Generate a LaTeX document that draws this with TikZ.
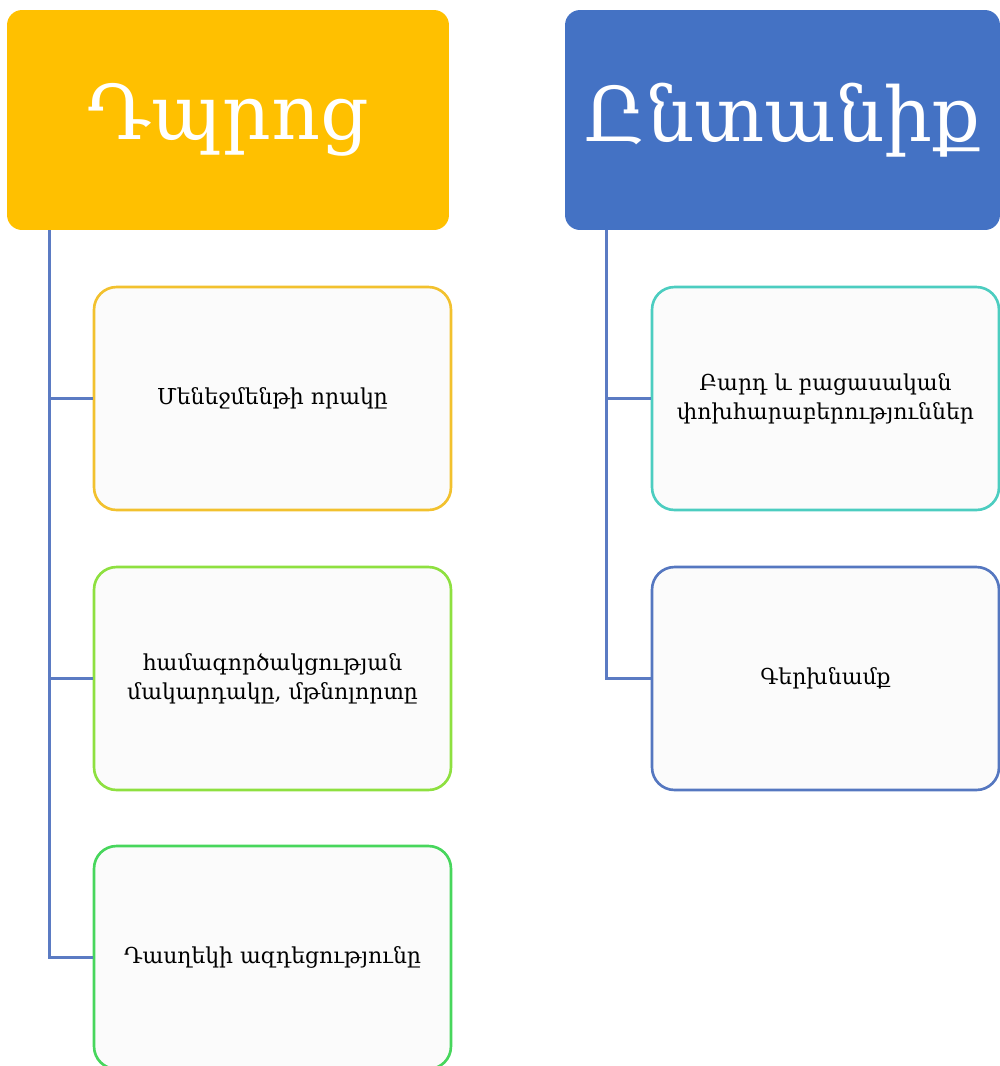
\documentclass[tikz,border=0pt]{standalone}
\usepackage{fontspec}
\newfontfamily\armfont{DejaVu Serif}
\definecolor{hdrYellow}{HTML}{FFC000}
\definecolor{hdrBlue}{HTML}{4472C4}
\definecolor{connBlue}{HTML}{5B7BC3}
\definecolor{bdGold}{HTML}{F2C12E}
\definecolor{bdLime}{HTML}{8EE040}
\definecolor{bdGreen}{HTML}{47D65C}
\definecolor{bdTeal}{HTML}{4CCDC0}
\definecolor{bdBlue}{HTML}{5577C0}
\definecolor{boxFill}{HTML}{FBFBFB}
\tikzset{
  hdr/.style={rectangle, rounded corners=0.3cm, minimum height=4.4cm, inner sep=0pt,
    text=white, font=\armfont\fontsize{43}{50}\selectfont},
  child/.style={rectangle, rounded corners=0.45cm, minimum width=7.14cm, minimum height=4.46cm,
    fill=boxFill, line width=1.5pt, inner sep=2pt, align=center, text=black,
    font=\armfont\fontsize{12.5}{16.5}\selectfont},
  conn/.style={draw=connBlue, line width=1.5pt}
}
\begin{document}
\begin{tikzpicture}[x=0.02cm, y=-0.02cm]
\useasboundingbox (0,0) rectangle (1000,1066);
\begin{scope}
\clip (0,0) rectangle (1000,1066);
\node[hdr, fill=hdrYellow, minimum width=8.84cm] (hdrL) at (228,120) {\raisebox{-3pt}{Դպրոց}};
\node[hdr, fill=hdrBlue, minimum width=8.7cm] (hdrR) at (782.5,120) {\raisebox{-3pt}{Ընտանիք}};

\node[child, draw=bdGold] (c1) at (272.5,398.5) {Մենեջմենթի որակը};
\node[child, draw=bdLime] (c2) at (272.5,678.5) {համագործակցության\\մակարդակը, մթնոլորտը};
\node[child, draw=bdGreen] (c3) at (272.5,957.5) {Դասղեկի ազդեցությունը};

\node[child, draw=bdTeal, minimum width=6.94cm] (r1) at (825.5,398.5) {Բարդ և բացասական\\փոխհարաբերություններ};
\node[child, draw=bdBlue, minimum width=6.94cm] (r2) at (825.5,678.5) {Գերխնամք};

\coordinate (tL) at ([xshift=0.85cm]hdrL.south west);
\coordinate (tR) at ([xshift=0.84cm]hdrR.south west);
\draw[conn] (tL) |- (c1.west);
\draw[conn] (tL) |- (c2.west);
\draw[conn] (tL) |- (c3.west);
\draw[conn] (tR) |- (r1.west);
\draw[conn] (tR) |- (r2.west);
\end{scope}
\end{tikzpicture}
\end{document}
